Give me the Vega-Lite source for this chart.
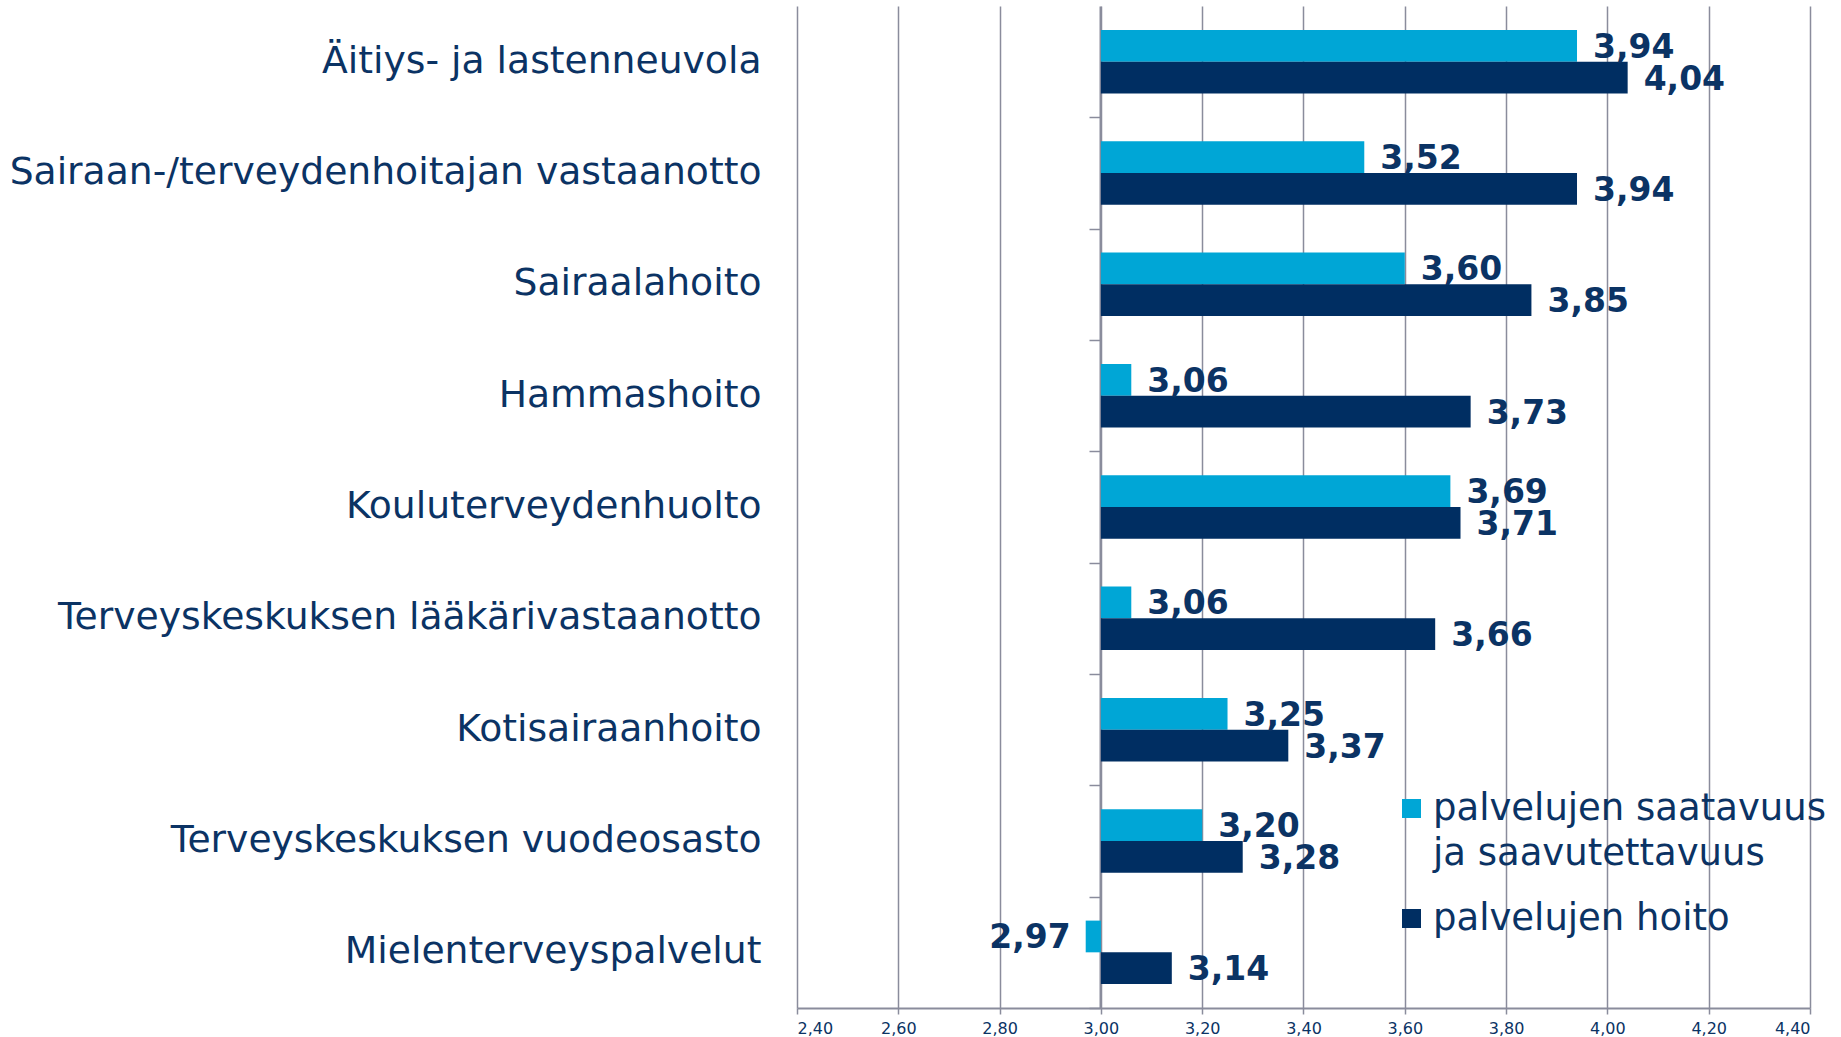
{
  "$schema": "https://vega.github.io/schema/vega-lite/v6.json",
  "width": 1013,
  "height": 1002,
  "autosize": {"type": "none"},
  "padding": {"left": 797, "top": 6, "right": 31, "bottom": 29},
  "background": "white",
  "config": {
    "locale": {"number": {"decimal": ",", "thousands": " ", "grouping": [3], "currency": ["", " €"]}},
    "font": "DejaVu Sans",
    "view": {"stroke": null}
  },
  "data": {
    "values": [
      {"palvelu": "Äitiys- ja lastenneuvola", "sarja": "palvelujen saatavuus ja saavutettavuus", "arvo": 3.94},
      {"palvelu": "Äitiys- ja lastenneuvola", "sarja": "palvelujen hoito", "arvo": 4.04},
      {"palvelu": "Sairaan-/terveydenhoitajan vastaanotto", "sarja": "palvelujen saatavuus ja saavutettavuus", "arvo": 3.52},
      {"palvelu": "Sairaan-/terveydenhoitajan vastaanotto", "sarja": "palvelujen hoito", "arvo": 3.94},
      {"palvelu": "Sairaalahoito", "sarja": "palvelujen saatavuus ja saavutettavuus", "arvo": 3.60},
      {"palvelu": "Sairaalahoito", "sarja": "palvelujen hoito", "arvo": 3.85},
      {"palvelu": "Hammashoito", "sarja": "palvelujen saatavuus ja saavutettavuus", "arvo": 3.06},
      {"palvelu": "Hammashoito", "sarja": "palvelujen hoito", "arvo": 3.73},
      {"palvelu": "Kouluterveydenhuolto", "sarja": "palvelujen saatavuus ja saavutettavuus", "arvo": 3.69},
      {"palvelu": "Kouluterveydenhuolto", "sarja": "palvelujen hoito", "arvo": 3.71},
      {"palvelu": "Terveyskeskuksen lääkärivastaanotto", "sarja": "palvelujen saatavuus ja saavutettavuus", "arvo": 3.06},
      {"palvelu": "Terveyskeskuksen lääkärivastaanotto", "sarja": "palvelujen hoito", "arvo": 3.66},
      {"palvelu": "Kotisairaanhoito", "sarja": "palvelujen saatavuus ja saavutettavuus", "arvo": 3.25},
      {"palvelu": "Kotisairaanhoito", "sarja": "palvelujen hoito", "arvo": 3.37},
      {"palvelu": "Terveyskeskuksen vuodeosasto", "sarja": "palvelujen saatavuus ja saavutettavuus", "arvo": 3.20},
      {"palvelu": "Terveyskeskuksen vuodeosasto", "sarja": "palvelujen hoito", "arvo": 3.28},
      {"palvelu": "Mielenterveyspalvelut", "sarja": "palvelujen saatavuus ja saavutettavuus", "arvo": 2.97},
      {"palvelu": "Mielenterveyspalvelut", "sarja": "palvelujen hoito", "arvo": 3.14}
    ]
  },
  "resolve": {"axis": {"y": "independent"}},
  "layer": [
    {
      "mark": {"type": "bar"},
      "encoding": {
        "y": {
          "field": "palvelu", "type": "nominal", "sort": null,
          "scale": {"paddingInner": 0.43, "paddingOuter": 0.215},
          "axis": {"orient": "left", "title": null, "domain": false, "ticks": false, "grid": false, "labelFontSize": 37.7, "labelColor": "#0B3364", "labelPadding": 36, "labelLimit": 0}
        },
        "yOffset": {
          "field": "sarja", "type": "nominal",
          "sort": ["palvelujen saatavuus ja saavutettavuus", "palvelujen hoito"],
          "scale": {"paddingInner": 0, "paddingOuter": 0}
        },
        "x": {
          "field": "arvo", "type": "quantitative",
          "scale": {"domain": [2.4, 4.4], "zero": false, "nice": false},
          "axis": {"title": null, "values": [2.4, 2.6, 2.8, 3.0, 3.2, 3.4, 3.6, 3.8, 4.0, 4.2, 4.4], "format": ".2f", "grid": true, "gridColor": "#8A8C9C", "gridWidth": 1.5, "domainColor": "#8A8C9C", "domainWidth": 2, "tickColor": "#8A8C9C", "tickSize": 6, "tickWidth": 1.5, "labelFontSize": 16, "labelColor": "#0B3364", "labelPadding": 6}
        },
        "x2": {"datum": 3},
        "color": {
          "field": "sarja", "type": "nominal",
          "sort": ["palvelujen saatavuus ja saavutettavuus", "palvelujen hoito"],
          "scale": {"range": ["#00A6D6", "#002E62"]},
          "legend": {
            "orient": "none", "legendX": 596, "legendY": 784, "title": null,
            "symbolType": "square", "symbolSize": 361, "symbolStrokeWidth": 0,
            "labelFontSize": 37, "labelColor": "#0B3364", "labelLimit": 0, "labelOffset": 3,
            "padding": 0, "rowPadding": 27,
            "labelExpr": "datum.label == 'palvelujen saatavuus ja saavutettavuus' ? ['palvelujen saatavuus', 'ja saavutettavuus'] : datum.label",
            "encode": {"labels": {"update": {"lineHeight": {"value": 45}}}}
          }
        }
      }
    },
    {
      "transform": [{"filter": "datum.arvo >= 3"}],
      "mark": {"type": "text", "align": "left", "baseline": "middle", "dx": 16, "dy": 2, "fontSize": 33, "fontWeight": "bold", "color": "#0B3364"},
      "encoding": {
        "y": {"field": "palvelu", "type": "nominal", "sort": null, "axis": null},
        "yOffset": {"field": "sarja", "type": "nominal", "sort": ["palvelujen saatavuus ja saavutettavuus", "palvelujen hoito"]},
        "x": {"field": "arvo", "type": "quantitative"},
        "text": {"field": "arvo", "type": "quantitative", "format": ".2f"}
      }
    },
    {
      "transform": [{"filter": "datum.arvo < 3"}],
      "mark": {"type": "text", "align": "right", "baseline": "middle", "dx": -15, "dy": 2, "fontSize": 33, "fontWeight": "bold", "color": "#0B3364"},
      "encoding": {
        "y": {
          "field": "palvelu", "type": "nominal", "sort": null,
          "axis": {"orient": "right", "offset": -710, "title": null, "labels": false, "grid": false, "domain": true, "domainColor": "#8A8C9C", "domainWidth": 2, "ticks": true, "bandPosition": 1, "tickExtra": false, "tickOffset": 24, "tickSize": -11, "tickColor": "#8A8C9C", "tickWidth": 1.5}
        },
        "yOffset": {"field": "sarja", "type": "nominal", "sort": ["palvelujen saatavuus ja saavutettavuus", "palvelujen hoito"]},
        "x": {"field": "arvo", "type": "quantitative"},
        "text": {"field": "arvo", "type": "quantitative", "format": ".2f"}
      }
    }
  ]
}
